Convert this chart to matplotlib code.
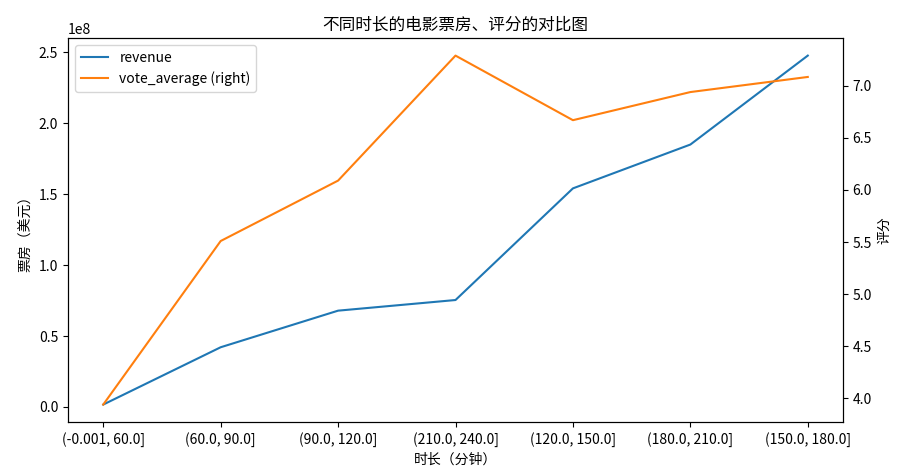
import pandas as pd
import matplotlib
matplotlib.use('Agg')
import matplotlib.pyplot as plt

plt.rcParams['font.family'] = ['Noto Sans CJK SC', 'DejaVu Sans']
plt.rcParams['axes.unicode_minus'] = False

# 时长分组及对应的平均票房、平均评分
runtime_bins = ['(-0.001, 60.0]', '(60.0, 90.0]', '(90.0, 120.0]', '(210.0, 240.0]',
                '(120.0, 150.0]', '(180.0, 210.0]', '(150.0, 180.0]']
revenue = [1.7e6, 4.21e7, 6.79e7, 7.54e7, 1.541e8, 1.850e8, 2.477e8]
vote_average = [3.94, 5.51, 6.09, 7.29, 6.67, 6.94, 7.085]

df = pd.DataFrame({'revenue': revenue, 'vote_average': vote_average},
                  index=runtime_bins)

fig = plt.figure(figsize=(9.02, 4.71), dpi=100)
ax = fig.add_subplot(111)
df.plot(ax=ax, secondary_y='vote_average', rot=0)
ax.set_xticks(range(len(runtime_bins)))
ax.set_xticklabels(runtime_bins)
ax.set_xlabel('时长（分钟）')
ax.set_ylabel('票房（美元）')
ax.right_ax.set_ylabel('评分')
ax.set_title('不同时长的电影票房、评分的对比图')
fig.subplots_adjust(left=0.0754, right=0.9346, top=0.919, bottom=0.104)
fig.savefig('out.png', dpi=100)
